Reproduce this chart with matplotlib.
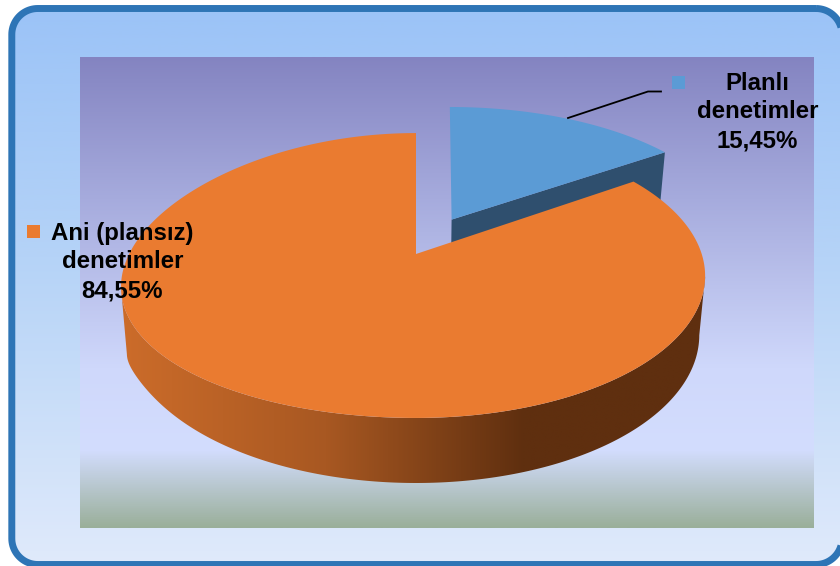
import numpy as np
import matplotlib
matplotlib.use("Agg")
import matplotlib.pyplot as plt
from matplotlib.colors import LinearSegmentedColormap
from matplotlib.patches import PathPatch, Rectangle
from matplotlib.path import Path

# ---- data ----
categories = ["Planlı\ndenetimler", "Ani (plansız)\ndenetimler"]
shares = [15.45, 84.55]
share_labels = ["15,45%", "84,55%"]
colors = ["#5B9BD5", "#EA7B30"]

plt.rcParams["font.family"] = ["Liberation Sans", "DejaVu Sans"]

W, H = 840, 566
fig = plt.figure(figsize=(W / 100, H / 100), dpi=100, facecolor="white")
ax = fig.add_axes([0, 0, 1, 1])
ax.set_xlim(0, W)
ax.set_ylim(H, 0)
ax.axis("off")


def grad(stops, extent, clip=None, z=1, horizontal=False):
    cmap = LinearSegmentedColormap.from_list("g", stops)
    g = np.linspace(0, 1, 512)
    g = g[None, :] if horizontal else g[:, None]
    im = ax.imshow(g, cmap=cmap, extent=extent, aspect="auto", zorder=z,
                   interpolation="bilinear", vmin=0, vmax=1)
    if clip is not None:
        im.set_clip_path(clip)
    return im


def rounded(x0, y0, x1, y1, r, n=24):
    pts = []
    corners = [(x1 - r, y0 + r, -90), (x1 - r, y1 - r, 0), (x0 + r, y1 - r, 90), (x0 + r, y0 + r, 180)]
    for cx, cy, a in corners:
        t = np.radians(np.linspace(a, a + 90, n))
        pts.append(np.column_stack([cx + r * np.cos(t), cy + r * np.sin(t)]))
    pts = np.vstack(pts)
    return Path(np.vstack([pts, pts[0]]), closed=True)


# ---- outer panel ----
panel_path = rounded(11.8, 8.5, 842, 564.5, 26)
clip_panel = PathPatch(panel_path, fc="none", ec="none", zorder=0)
ax.add_patch(clip_panel)
grad([(0, "#9BC3F7"), (0.45, "#B5D3F7"), (1, "#E0EAFB")], (8, 846, 566, 5), clip=clip_panel, z=1)
ax.add_patch(PathPatch(panel_path, fc="none", ec="#2E75B6", lw=5, zorder=3))

# ---- plot area ----
grad([(0, "#8484C1"), (0.30, "#A6ABDD"), (0.66, "#CFD8FB"), (0.835, "#D3DDFE"),
      (1, "#9AAF9A")], (80, 814, 528, 57), z=2)

# ---- perspective pie ----
CX, CY = 416.0, 254.0
K = 0.151
RX, RY = 288.7, 139.2
DEPTH = 58.0
LOW = 0.98
EXPLODE = 0.29


def project(x, y, lower=False):
    w = 1 + K * y
    s = LOW if lower else 1.0
    d = DEPTH if lower else 0.0
    return CX + s * RX * x / w, CY + (d - s * RY * y) / w


def project_main(x, y, lower=False):
    px, py = project(x, y, lower)
    left = x < 0
    drop = 24 * np.abs(x) ** 20 * left if lower else 12 * x ** 2 * left
    return px - 3 * x ** 2, py + drop


def project_blue(x, y, ex, ey, lower=False):
    px, py = project(x, y, lower)
    return px - 2 + 3 * (x - ex) + 3 * (y - ey), py


def arc(a0, a1, n=240):
    return np.radians(np.linspace(a0, a1, n))


total = sum(shares)
blue_span = shares[0] / total * 360
orange_span = shares[1] / total * 360
start = 90.0
blue_end = start - blue_span
mid = np.radians((start + blue_end) / 2)
ex, ey = EXPLODE * np.cos(mid), EXPLODE * np.sin(mid)

# exploded slice: cut face, then top
t = arc(blue_end, start)
bx, by = ex + np.cos(t), ey + np.sin(t)
rim = np.radians(blue_end)
s = np.linspace(0, 1, 30)
fx, fy = ex + s * np.cos(rim), ey + s * np.sin(rim)
tx, ty = project_blue(fx, fy, ex, ey)
lx, ly = project_blue(fx, fy, ex, ey, lower=True)
ax.fill(np.r_[tx, lx[::-1]], np.r_[ty, ly[::-1]], fc="#2F4F6E", ec="none", zorder=4)
px, py = project_blue(np.r_[ex, bx], np.r_[ey, by], ex, ey)
ax.fill(px, py, fc=colors[0], ec="none", zorder=5)

# big slice: wall with horizontal shading (between the two silhouette tangents), then top
t = arc(189, 351)
tx, ty = project_main(np.cos(t), np.sin(t))
lx, ly = project_main(np.cos(t), np.sin(t), lower=True)
wall = np.column_stack([np.r_[tx, lx[::-1]], np.r_[ty, ly[::-1]]])
wall_patch = PathPatch(Path(np.vstack([wall, wall[0]]), closed=True), fc="none", ec="none")
ax.add_patch(wall_patch)
grad([(0, "#CC6C2A"), (0.35, "#A85822"), (0.69, "#5F2F0F"), (1, "#5F2F0F")],
     (120, 706, 490, 260), clip=wall_patch, z=6, horizontal=True)

t = arc(start, start + orange_span, 600)
px, py = project_main(np.r_[0, np.cos(t)], np.r_[0, np.sin(t)])
ax.fill(px, py, fc=colors[1], ec="none", zorder=7)

ax.set_xlim(0, W)
ax.set_ylim(H, 0)

# ---- labels ----
font = dict(fontsize=17.3, fontweight="bold", color="black", ha="center", va="center",
            linespacing=1.33, zorder=9)
ax.text(757.5, 112, categories[0] + "\n" + share_labels[0], **font)
ax.text(122.5, 262, categories[1] + "\n" + share_labels[1], **font)
ax.add_patch(Rectangle((672, 76), 13, 13, fc=colors[0], ec="none", zorder=9))
ax.add_patch(Rectangle((27, 225), 13, 13, fc=colors[1], ec="none", zorder=9))
ax.plot([568, 648, 661], [118, 91.5, 91.5], color="black", lw=1.3, zorder=8)

fig.savefig("out.png", dpi=100, facecolor="white")
